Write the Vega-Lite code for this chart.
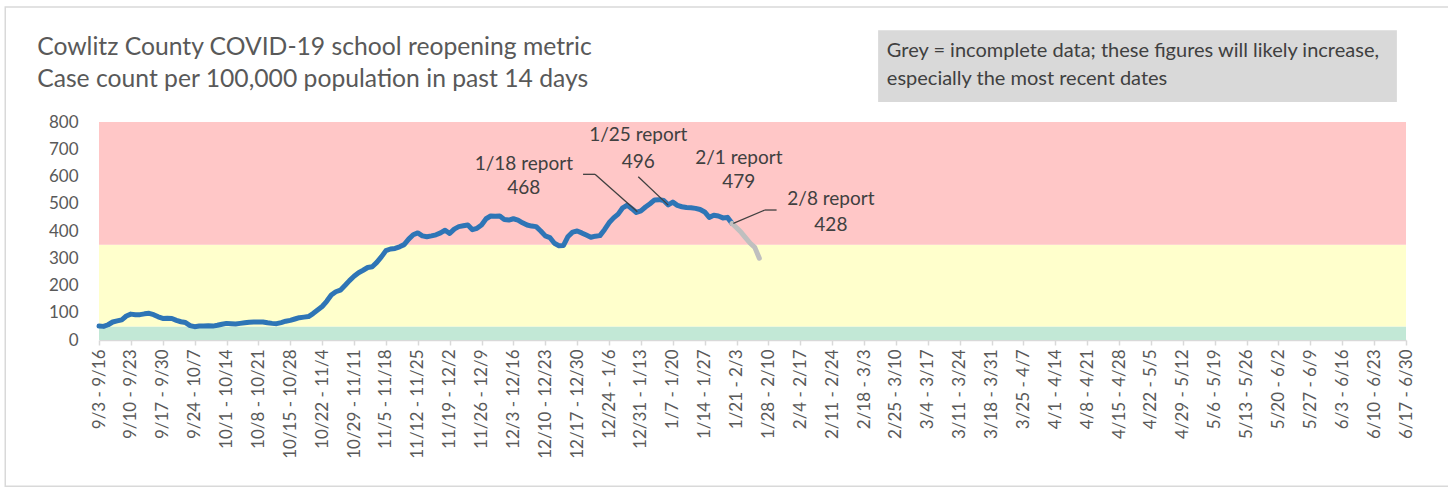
{
  "$schema": "https://vega.github.io/schema/vega-lite/v6.json",
  "width": 1307,
  "height": 218,
  "autosize": "none",
  "padding": {"left": 99, "top": 122, "right": 42, "bottom": 149},
  "background": "white",
  "config": {"view": {"stroke": null}, "font": "Lato"},
  "datasets": {
    "frame": [
      {"date": "2020-08-13T10:00:00Z", "date2": "2021-06-26T19:00:00Z", "value": -537, "value2": 1222}
    ],
    "bands": [
      {"zone": "low", "date": "2020-09-03", "date2": "2021-06-17", "value": 0, "value2": 50},
      {"zone": "moderate", "date": "2020-09-03", "date2": "2021-06-17", "value": 50, "value2": 350},
      {"zone": "high", "date": "2020-09-03", "date2": "2021-06-17", "value": 350, "value2": 800}
    ],
    "series": [
      {"date": "2020-09-03", "value": 51, "status": "complete"},
      {"date": "2020-09-04", "value": 50, "status": "complete"},
      {"date": "2020-09-05", "value": 56, "status": "complete"},
      {"date": "2020-09-06", "value": 66, "status": "complete"},
      {"date": "2020-09-07", "value": 70, "status": "complete"},
      {"date": "2020-09-08", "value": 74, "status": "complete"},
      {"date": "2020-09-09", "value": 88, "status": "complete"},
      {"date": "2020-09-10", "value": 95, "status": "complete"},
      {"date": "2020-09-11", "value": 93, "status": "complete"},
      {"date": "2020-09-12", "value": 93, "status": "complete"},
      {"date": "2020-09-13", "value": 96, "status": "complete"},
      {"date": "2020-09-14", "value": 98, "status": "complete"},
      {"date": "2020-09-15", "value": 93, "status": "complete"},
      {"date": "2020-09-16", "value": 85, "status": "complete"},
      {"date": "2020-09-17", "value": 79, "status": "complete"},
      {"date": "2020-09-18", "value": 80, "status": "complete"},
      {"date": "2020-09-19", "value": 79, "status": "complete"},
      {"date": "2020-09-20", "value": 72, "status": "complete"},
      {"date": "2020-09-21", "value": 67, "status": "complete"},
      {"date": "2020-09-22", "value": 64, "status": "complete"},
      {"date": "2020-09-23", "value": 53, "status": "complete"},
      {"date": "2020-09-24", "value": 49, "status": "complete"},
      {"date": "2020-09-25", "value": 51, "status": "complete"},
      {"date": "2020-09-26", "value": 51, "status": "complete"},
      {"date": "2020-09-27", "value": 52, "status": "complete"},
      {"date": "2020-09-28", "value": 51, "status": "complete"},
      {"date": "2020-09-29", "value": 54, "status": "complete"},
      {"date": "2020-09-30", "value": 58, "status": "complete"},
      {"date": "2020-10-01", "value": 61, "status": "complete"},
      {"date": "2020-10-02", "value": 60, "status": "complete"},
      {"date": "2020-10-03", "value": 59, "status": "complete"},
      {"date": "2020-10-04", "value": 61, "status": "complete"},
      {"date": "2020-10-05", "value": 63, "status": "complete"},
      {"date": "2020-10-06", "value": 65, "status": "complete"},
      {"date": "2020-10-07", "value": 66, "status": "complete"},
      {"date": "2020-10-08", "value": 66, "status": "complete"},
      {"date": "2020-10-09", "value": 66, "status": "complete"},
      {"date": "2020-10-10", "value": 63, "status": "complete"},
      {"date": "2020-10-11", "value": 61, "status": "complete"},
      {"date": "2020-10-12", "value": 60, "status": "complete"},
      {"date": "2020-10-13", "value": 64, "status": "complete"},
      {"date": "2020-10-14", "value": 69, "status": "complete"},
      {"date": "2020-10-15", "value": 72, "status": "complete"},
      {"date": "2020-10-16", "value": 77, "status": "complete"},
      {"date": "2020-10-17", "value": 82, "status": "complete"},
      {"date": "2020-10-18", "value": 84, "status": "complete"},
      {"date": "2020-10-19", "value": 86, "status": "complete"},
      {"date": "2020-10-20", "value": 97, "status": "complete"},
      {"date": "2020-10-21", "value": 110, "status": "complete"},
      {"date": "2020-10-22", "value": 123, "status": "complete"},
      {"date": "2020-10-23", "value": 142, "status": "complete"},
      {"date": "2020-10-24", "value": 165, "status": "complete"},
      {"date": "2020-10-25", "value": 177, "status": "complete"},
      {"date": "2020-10-26", "value": 183, "status": "complete"},
      {"date": "2020-10-27", "value": 200, "status": "complete"},
      {"date": "2020-10-28", "value": 218, "status": "complete"},
      {"date": "2020-10-29", "value": 234, "status": "complete"},
      {"date": "2020-10-30", "value": 247, "status": "complete"},
      {"date": "2020-10-31", "value": 256, "status": "complete"},
      {"date": "2020-11-01", "value": 266, "status": "complete"},
      {"date": "2020-11-02", "value": 269, "status": "complete"},
      {"date": "2020-11-03", "value": 285, "status": "complete"},
      {"date": "2020-11-04", "value": 305, "status": "complete"},
      {"date": "2020-11-05", "value": 328, "status": "complete"},
      {"date": "2020-11-06", "value": 334, "status": "complete"},
      {"date": "2020-11-07", "value": 336, "status": "complete"},
      {"date": "2020-11-08", "value": 342, "status": "complete"},
      {"date": "2020-11-09", "value": 350, "status": "complete"},
      {"date": "2020-11-10", "value": 370, "status": "complete"},
      {"date": "2020-11-11", "value": 386, "status": "complete"},
      {"date": "2020-11-12", "value": 393, "status": "complete"},
      {"date": "2020-11-13", "value": 382, "status": "complete"},
      {"date": "2020-11-14", "value": 379, "status": "complete"},
      {"date": "2020-11-15", "value": 382, "status": "complete"},
      {"date": "2020-11-16", "value": 386, "status": "complete"},
      {"date": "2020-11-17", "value": 393, "status": "complete"},
      {"date": "2020-11-18", "value": 403, "status": "complete"},
      {"date": "2020-11-19", "value": 391, "status": "complete"},
      {"date": "2020-11-20", "value": 407, "status": "complete"},
      {"date": "2020-11-21", "value": 416, "status": "complete"},
      {"date": "2020-11-22", "value": 419, "status": "complete"},
      {"date": "2020-11-23", "value": 422, "status": "complete"},
      {"date": "2020-11-24", "value": 405, "status": "complete"},
      {"date": "2020-11-25", "value": 410, "status": "complete"},
      {"date": "2020-11-26", "value": 422, "status": "complete"},
      {"date": "2020-11-27", "value": 445, "status": "complete"},
      {"date": "2020-11-28", "value": 455, "status": "complete"},
      {"date": "2020-11-29", "value": 454, "status": "complete"},
      {"date": "2020-11-30", "value": 455, "status": "complete"},
      {"date": "2020-12-01", "value": 442, "status": "complete"},
      {"date": "2020-12-02", "value": 440, "status": "complete"},
      {"date": "2020-12-03", "value": 445, "status": "complete"},
      {"date": "2020-12-04", "value": 440, "status": "complete"},
      {"date": "2020-12-05", "value": 430, "status": "complete"},
      {"date": "2020-12-06", "value": 422, "status": "complete"},
      {"date": "2020-12-07", "value": 418, "status": "complete"},
      {"date": "2020-12-08", "value": 416, "status": "complete"},
      {"date": "2020-12-09", "value": 400, "status": "complete"},
      {"date": "2020-12-10", "value": 382, "status": "complete"},
      {"date": "2020-12-11", "value": 376, "status": "complete"},
      {"date": "2020-12-12", "value": 355, "status": "complete"},
      {"date": "2020-12-13", "value": 346, "status": "complete"},
      {"date": "2020-12-14", "value": 347, "status": "complete"},
      {"date": "2020-12-15", "value": 380, "status": "complete"},
      {"date": "2020-12-16", "value": 396, "status": "complete"},
      {"date": "2020-12-17", "value": 400, "status": "complete"},
      {"date": "2020-12-18", "value": 393, "status": "complete"},
      {"date": "2020-12-19", "value": 385, "status": "complete"},
      {"date": "2020-12-20", "value": 377, "status": "complete"},
      {"date": "2020-12-21", "value": 381, "status": "complete"},
      {"date": "2020-12-22", "value": 383, "status": "complete"},
      {"date": "2020-12-23", "value": 405, "status": "complete"},
      {"date": "2020-12-24", "value": 430, "status": "complete"},
      {"date": "2020-12-25", "value": 448, "status": "complete"},
      {"date": "2020-12-26", "value": 462, "status": "complete"},
      {"date": "2020-12-27", "value": 485, "status": "complete"},
      {"date": "2020-12-28", "value": 495, "status": "complete"},
      {"date": "2020-12-29", "value": 482, "status": "complete"},
      {"date": "2020-12-30", "value": 468, "status": "complete"},
      {"date": "2020-12-31", "value": 474, "status": "complete"},
      {"date": "2021-01-01", "value": 488, "status": "complete"},
      {"date": "2021-01-02", "value": 500, "status": "complete"},
      {"date": "2021-01-03", "value": 514, "status": "complete"},
      {"date": "2021-01-04", "value": 515, "status": "complete"},
      {"date": "2021-01-05", "value": 512, "status": "complete"},
      {"date": "2021-01-06", "value": 496, "status": "complete"},
      {"date": "2021-01-07", "value": 506, "status": "complete"},
      {"date": "2021-01-08", "value": 494, "status": "complete"},
      {"date": "2021-01-09", "value": 489, "status": "complete"},
      {"date": "2021-01-10", "value": 486, "status": "complete"},
      {"date": "2021-01-11", "value": 485, "status": "complete"},
      {"date": "2021-01-12", "value": 483, "status": "complete"},
      {"date": "2021-01-13", "value": 479, "status": "complete"},
      {"date": "2021-01-14", "value": 470, "status": "complete"},
      {"date": "2021-01-15", "value": 450, "status": "complete"},
      {"date": "2021-01-16", "value": 458, "status": "complete"},
      {"date": "2021-01-17", "value": 455, "status": "complete"},
      {"date": "2021-01-18", "value": 448, "status": "complete"},
      {"date": "2021-01-19", "value": 450, "status": "complete"},
      {"date": "2021-01-20", "value": 428, "status": "complete"},
      {"date": "2021-01-20", "value": 428, "status": "incomplete"},
      {"date": "2021-01-21", "value": 412, "status": "incomplete"},
      {"date": "2021-01-22", "value": 395, "status": "incomplete"},
      {"date": "2021-01-23", "value": 375, "status": "incomplete"},
      {"date": "2021-01-24", "value": 355, "status": "incomplete"},
      {"date": "2021-01-25", "value": 340, "status": "incomplete"},
      {"date": "2021-01-26", "value": 300, "status": "incomplete"}
    ],
    "labels": [
      {"text": "1/18 report", "date": "2020-12-05T07:00:00Z", "value": 646},
      {"text": "468", "date": "2020-12-05T07:00:00Z", "value": 558},
      {"text": "1/25 report", "date": "2020-12-30T10:00:00Z", "value": 752},
      {"text": "496", "date": "2020-12-30T10:00:00Z", "value": 655},
      {"text": "2/1 report", "date": "2021-01-21T12:00:00Z", "value": 668},
      {"text": "479", "date": "2021-01-21T12:00:00Z", "value": 578},
      {"text": "2/8 report", "date": "2021-02-10T17:00:00Z", "value": 517},
      {"text": "428", "date": "2021-02-10T17:00:00Z", "value": 422}
    ],
    "leaders": [
      {"date": "2020-12-18T07:00:00Z", "value": 608, "date2": "2020-12-20T22:00:00Z", "value2": 608},
      {"date": "2020-12-20T22:00:00Z", "value": 608, "date2": "2020-12-30T05:00:00Z", "value2": 471},
      {"date": "2020-12-30T10:00:00Z", "value": 599, "date2": "2021-01-06T00:00:00Z", "value2": 495},
      {"date": "2021-01-20T07:00:00Z", "value": 428, "date2": "2021-01-27T05:00:00Z", "value2": 477},
      {"date": "2021-01-27T05:00:00Z", "value": 477, "date2": "2021-01-29T19:00:00Z", "value2": 477}
    ],
    "notebox": [
      {"date": "2021-02-21T02:00:00Z", "date2": "2021-06-15T00:00:00Z", "value": 873, "value2": 1137}
    ],
    "notetext": [
      {"text": "Grey = incomplete data; these figures will likely increase,", "date": "2021-02-23T00:00:00Z", "value": 1040},
      {"text": "especially the most recent dates", "date": "2021-02-23T00:00:00Z", "value": 936}
    ],
    "titletext": [
      {"text": "Cowlitz County COVID-19 school reopening metric", "date": "2020-08-20T10:00:00Z", "value": 1046},
      {"text": "Case count per 100,000 population in past 14 days", "date": "2020-08-20T10:00:00Z", "value": 928}
    ]
  },
  "encoding": {
    "x": {"field": "date", "type": "temporal",
      "scale": {"type": "utc", "domain": [{"year": 2020, "month": 9, "date": 3, "utc": true}, {"year": 2021, "month": 6, "date": 17, "utc": true}]},
      "axis": {
        "values": [
          {"year": 2020, "month": 9, "date": 3, "utc": true},
          {"year": 2020, "month": 9, "date": 10, "utc": true},
          {"year": 2020, "month": 9, "date": 17, "utc": true},
          {"year": 2020, "month": 9, "date": 24, "utc": true},
          {"year": 2020, "month": 10, "date": 1, "utc": true},
          {"year": 2020, "month": 10, "date": 8, "utc": true},
          {"year": 2020, "month": 10, "date": 15, "utc": true},
          {"year": 2020, "month": 10, "date": 22, "utc": true},
          {"year": 2020, "month": 10, "date": 29, "utc": true},
          {"year": 2020, "month": 11, "date": 5, "utc": true},
          {"year": 2020, "month": 11, "date": 12, "utc": true},
          {"year": 2020, "month": 11, "date": 19, "utc": true},
          {"year": 2020, "month": 11, "date": 26, "utc": true},
          {"year": 2020, "month": 12, "date": 3, "utc": true},
          {"year": 2020, "month": 12, "date": 10, "utc": true},
          {"year": 2020, "month": 12, "date": 17, "utc": true},
          {"year": 2020, "month": 12, "date": 24, "utc": true},
          {"year": 2020, "month": 12, "date": 31, "utc": true},
          {"year": 2021, "month": 1, "date": 7, "utc": true},
          {"year": 2021, "month": 1, "date": 14, "utc": true},
          {"year": 2021, "month": 1, "date": 21, "utc": true},
          {"year": 2021, "month": 1, "date": 28, "utc": true},
          {"year": 2021, "month": 2, "date": 4, "utc": true},
          {"year": 2021, "month": 2, "date": 11, "utc": true},
          {"year": 2021, "month": 2, "date": 18, "utc": true},
          {"year": 2021, "month": 2, "date": 25, "utc": true},
          {"year": 2021, "month": 3, "date": 4, "utc": true},
          {"year": 2021, "month": 3, "date": 11, "utc": true},
          {"year": 2021, "month": 3, "date": 18, "utc": true},
          {"year": 2021, "month": 3, "date": 25, "utc": true},
          {"year": 2021, "month": 4, "date": 1, "utc": true},
          {"year": 2021, "month": 4, "date": 8, "utc": true},
          {"year": 2021, "month": 4, "date": 15, "utc": true},
          {"year": 2021, "month": 4, "date": 22, "utc": true},
          {"year": 2021, "month": 4, "date": 29, "utc": true},
          {"year": 2021, "month": 5, "date": 6, "utc": true},
          {"year": 2021, "month": 5, "date": 13, "utc": true},
          {"year": 2021, "month": 5, "date": 20, "utc": true},
          {"year": 2021, "month": 5, "date": 27, "utc": true},
          {"year": 2021, "month": 6, "date": 3, "utc": true},
          {"year": 2021, "month": 6, "date": 10, "utc": true},
          {"year": 2021, "month": 6, "date": 17, "utc": true}
        ],
        "labelExpr": "utcFormat(time(datum.value), '%-m/%-d') + ' - ' + utcFormat(time(datum.value) + 1123200000, '%-m/%-d')",
        "labelAngle": 270, "labelFontSize": 17, "labelColor": "#595959", "labelFont": "Lato",
        "labelPadding": 4, "labelOverlap": false, "labelFlush": false, "labelBound": false,
        "domainColor": "#D9D9D9", "domainWidth": 1.5, "tickColor": "#D9D9D9", "tickWidth": 1.5, "tickSize": 5,
        "grid": false, "title": null
      }
    },
    "y": {"field": "value", "type": "quantitative", "scale": {"domain": [0, 800], "nice": false},
      "axis": {"values": [0, 100, 200, 300, 400, 500, 600, 700, 800], "domain": false, "ticks": false, "grid": false,
        "labelOverlap": false, "labelFontSize": 17, "labelColor": "#595959", "labelPadding": 21, "title": null, "labelFont": "Lato"}}
  },
  "layer": [
    {
      "data": {"name": "frame"},
      "mark": {"type": "rect", "fill": null, "stroke": "#D9D9D9", "strokeWidth": 1.5, "clip": false},
      "encoding": {
        "x2": {"field": "date2"},
        "y2": {"field": "value2"}
      }
    },
    {
      "data": {"name": "bands"},
      "mark": {"type": "rect"},
      "encoding": {
        "x2": {"field": "date2"},
        "y2": {"field": "value2"},
        "fill": {"field": "zone", "type": "nominal", "legend": null,
          "scale": {"domain": ["low", "moderate", "high"], "range": ["#C2E8D6", "#FFFFCC", "#FFC7C7"]}}
      }
    },
    {
      "data": {"name": "series"},
      "mark": {"type": "line", "strokeWidth": 5, "strokeCap": "round", "strokeJoin": "round"},
      "encoding": {
        "color": {"field": "status", "type": "nominal", "legend": null,
          "scale": {"domain": ["complete", "incomplete"], "range": ["#2E75B6", "#BFBFBF"]}}
      }
    },
    {
      "data": {"name": "notebox"},
      "mark": {"type": "rect", "fill": "#D9D9D9", "clip": false},
      "encoding": {
        "x2": {"field": "date2"},
        "y2": {"field": "value2"}
      }
    },
    {
      "data": {"name": "notetext"},
      "mark": {"type": "text", "align": "left", "baseline": "alphabetic", "fontSize": 20, "color": "#404040", "font": "Lato", "clip": false},
      "encoding": {
        "text": {"field": "text"}
      }
    },
    {
      "data": {"name": "titletext"},
      "mark": {"type": "text", "align": "left", "baseline": "alphabetic", "fontSize": 24.7, "color": "#595959", "font": "Lato", "clip": false},
      "encoding": {
        "text": {"field": "text"}
      }
    },
    {
      "data": {"name": "leaders"},
      "mark": {"type": "rule", "color": "#404040", "strokeWidth": 1.3},
      "encoding": {
        "x2": {"field": "date2"},
        "y2": {"field": "value2"}
      }
    },
    {
      "data": {"name": "labels"},
      "mark": {"type": "text", "align": "center", "baseline": "middle", "fontSize": 19, "color": "#404040", "font": "Lato"},
      "encoding": {
        "text": {"field": "text"}
      }
    }
  ]
}
